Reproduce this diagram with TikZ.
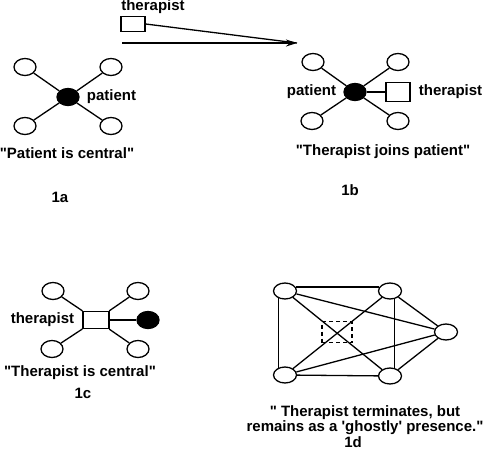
\documentclass[tikz,border=0pt]{standalone}
\usepackage{fontspec}
\setmainfont{Liberation Sans}
\usetikzlibrary{shapes.geometric, arrows.meta, positioning}
\newcommand{\qq}{\textquotedbl}
\tikzstyle{member} = [ellipse, draw=black, line width=1.3pt, minimum width=22pt, minimum height=17pt, inner sep=0pt]
\tikzstyle{patientnode} = [member, fill=black]
\tikzstyle{therapistbox} = [rectangle, draw=black, line width=1.3pt, minimum width=24pt, minimum height=17pt, inner sep=0pt]
\tikzstyle{ghostbox} = [rectangle, draw=black, dashed, dash pattern=on 4pt off 3pt, line width=1.2pt, minimum width=30pt, minimum height=21pt, inner sep=0pt]
\tikzstyle{caption} = [font=\fontsize{15}{15}\selectfont\bfseries, align=center, inner sep=0pt]
\tikzstyle{link} = [line width=1.3pt]
\tikzstyle{arrow} = [line width=1.3pt, -{Stealth[length=11pt, width=7pt]}]

\begin{document}
\begin{tikzpicture}[x=1pt, y=-1pt]
    \useasboundingbox (0,0) rectangle (485,453);

    % 1a: patient is central
    \node (p1a) [patientnode] at (68,97) {};
    \node (a1) [member] at (25,67) {};
    \node (a2) [member] at (111,67) {};
    \node (a3) [member] at (25,126) {};
    \node (a4) [member] at (111,126) {};
    \node (lp1a) [caption, right=7pt of p1a] {patient};
    \node (cap1a) [caption] at (67,153) {\qq Patient is central\qq};
    \node (n1a) [caption] at (60,197) {1a};
    \foreach \m in {a1,a2,a3,a4}
        \draw [link] (p1a) -- (\m);

    % therapist coming in
    \node (tb) [therapistbox, minimum height=15pt] at (133,24) {};
    \node (ltb) [caption] at (153,7) {therapist};
    \coordinate (start) at (122,43);
    \coordinate (join) at (297,43);
    \draw [link] (tb.east) -- (join);
    \draw [arrow] (start) -- (join);

    % 1b: therapist joins patient
    \node (p1b) [patientnode] at (355,92) {};
    \node (b1) [member] at (313,62) {};
    \node (b2) [member] at (398,62) {};
    \node (b3) [member] at (312,121) {};
    \node (b4) [member] at (398,121) {};
    \node (t1b) [therapistbox, minimum height=19pt] at (398,92) {};
    \node (lp1b) [caption, left=7pt of p1b] {patient};
    \node (lt1b) [caption, right=8pt of t1b] {therapist};
    \node (cap1b) [caption] at (383,152) {\qq Therapist joins patient\qq};
    \node (n1b) [caption] at (350,190) {1b};
    \foreach \m in {b1,b2,b3,b4,t1b}
        \draw [link] (p1b) -- (\m);

    % 1c: therapist is central
    \node (t1c) [therapistbox, minimum width=26pt] at (96,320) {};
    \node (c1) [member] at (53,291) {};
    \node (c2) [member] at (138,291) {};
    \node (c3) [member] at (52,349) {};
    \node (c4) [member] at (138,349) {};
    \node (p1c) [patientnode] at (148,320) {};
    \node (lt1c) [caption, left=8pt of t1c] {therapist};
    \node (cap1c) [caption] at (80,373) {\qq Therapist is central\qq};
    \node (n1c) [caption] at (83,393) {1c};
    \foreach \m in {c1,c2,c3,c4,p1c}
        \draw [link] (t1c) -- (\m);

    % 1d: ghostly presence
    \node (g1d) [ghostbox] at (337,332) {};
    \node (d1) [member, minimum width=23pt, minimum height=16pt] at (285,291) {};
    \node (d2) [member, minimum width=23pt, minimum height=16pt] at (390,291) {};
    \node (d3) [member, minimum width=23pt, minimum height=16pt] at (446,332) {};
    \node (d4) [member, minimum width=23pt, minimum height=16pt] at (285,375) {};
    \node (d5) [member, minimum width=23pt, minimum height=16pt] at (390,376) {};
    \draw [link] (d1.20) -- (d2.160);
    \draw [link] (d4) -- (d5);
    \draw [link] (d1.-130) -- (d4.130);
    \draw [link] (d2.-60) -- (d5.60);
    \draw [link] (d1) -- (d5);
    \draw [link] (d2) -- (d4);
    \foreach \m in {d1,d2,d4,d5}
        \draw [link] (\m) -- (d3);
    \node (cap1d) [caption] at (365,420) {\qq{} Therapist terminates, but\\remains as a \textquotesingle ghostly\textquotesingle{} presence.\qq};
    \node (n1d) [caption] at (353,442) {1d};
\end{tikzpicture}
\end{document}
